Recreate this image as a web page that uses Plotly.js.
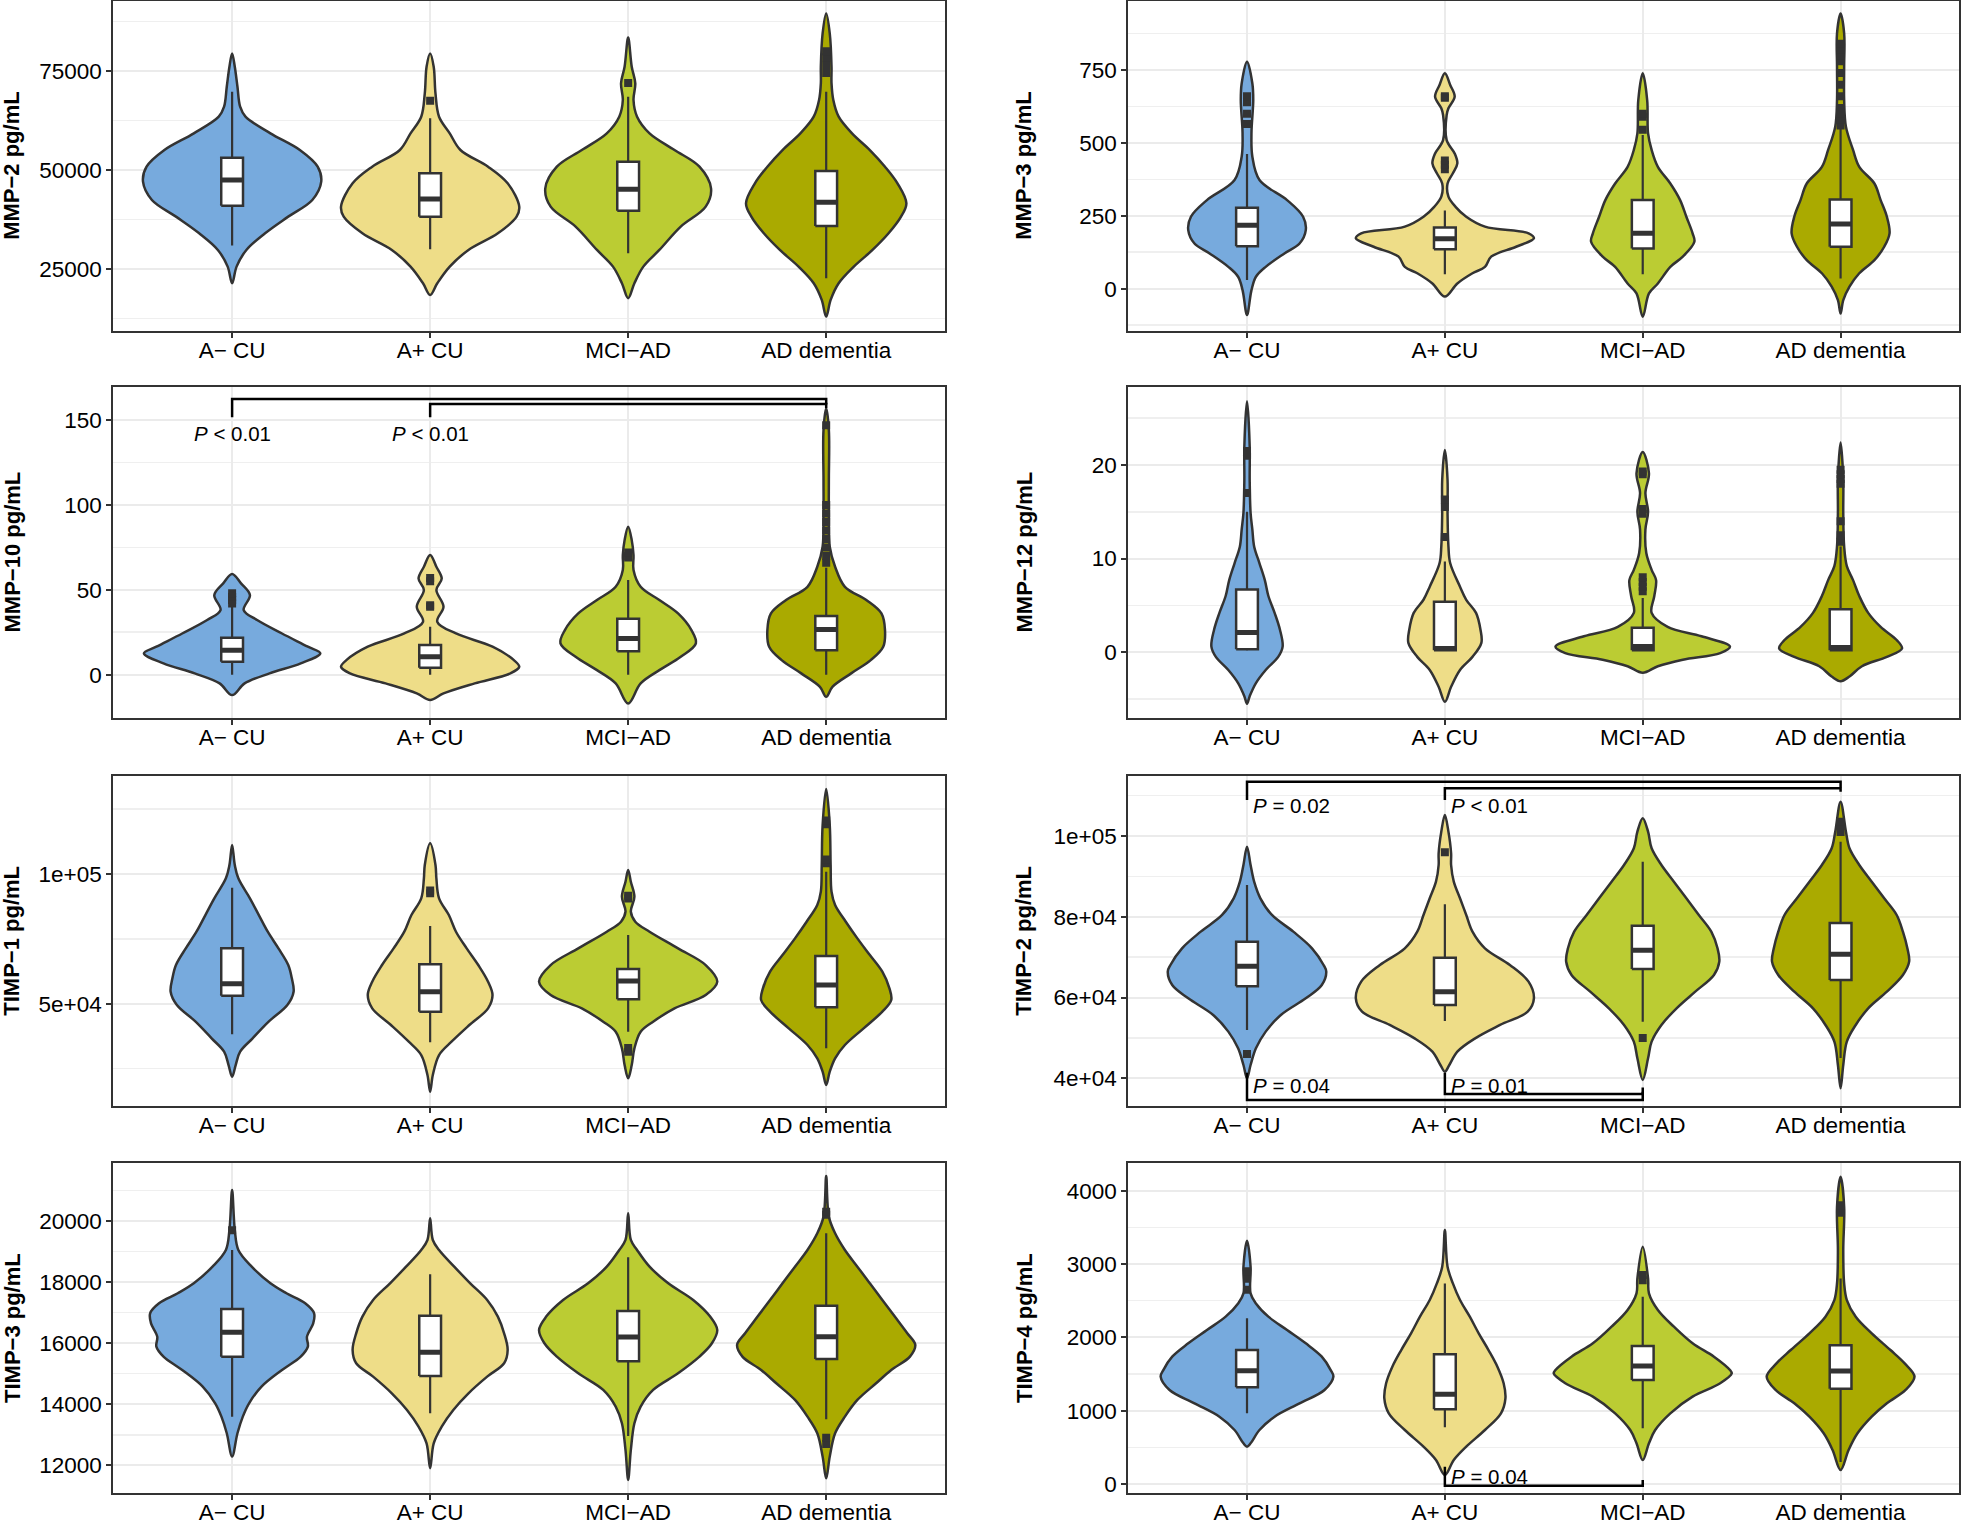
<!DOCTYPE html>
<html><head><meta charset="utf-8">
<script src="https://cdn.plot.ly/plotly-3.0.1.min.js"></script>
<style>html,body{margin:0;padding:0;background:#fff}#chart{width:1961px;height:1521px}</style>
</head><body><div id="chart"></div>
<script>
// ---------------- DATA ----------------
const groups = ['A\u2212 CU', 'A+ CU', 'MCI\u2212AD', 'AD dementia'];
const panelTitles = ['MMP\u22122 pg/mL', 'MMP\u22123 pg/mL', 'MMP\u221210 pg/mL', 'MMP\u221212 pg/mL',
                     'TIMP\u22121 pg/mL', 'TIMP\u22122 pg/mL', 'TIMP\u22123 pg/mL', 'TIMP\u22124 pg/mL'];

// Violin density profiles: values (y) and relative half-width (d, 1 = widest)
// MMP-2
const mmp2ViolinY = [
  [79460, 76090, 71040, 65990, 63470, 59260, 55050, 50840, 47060, 42430, 38220, 34010, 29800, 25590, 21380],
  [79460, 76090, 69360, 63470, 59260, 55050, 50840, 46640, 40740, 38220, 34010, 29800, 25590, 21380, 18440],
  [83500, 76090, 71890, 67680, 63470, 59260, 55050, 50840, 45370, 40740, 35690, 29800, 25590, 21380, 17600],
  [89560, 84510, 76090, 71890, 67680, 63470, 59260, 55050, 50840, 46640, 41590, 38220, 34010, 29800, 25590, 21380, 17180, 12970]];
const mmp2ViolinD = [
  [0, .03, .06, .09, .15, .43, .76, .96, 1.0, .90, .63, .37, .16, .05, 0],
  [0, .04, .06, .10, .22, .34, .65, .87, 1.0, .97, .76, .43, .22, .08, 0],
  [0, .04, .08, .06, .10, .24, .52, .80, .93, .87, .59, .35, .17, .07, 0],
  [0, .04, .06, .06, .08, .14, .29, .49, .66, .80, .90, .84, .70, .52, .31, .14, .05, 0]];
const mmp2Q1 = [41000, 38220, 39730, 35860];
const mmp2Median = [47480, 42680, 45120, 41840];
const mmp2Q3 = [53120, 49160, 52110, 49750];
const mmp2Low = [30900, 29970, 28960, 22650];
const mmp2High = [69780, 63050, 68520, 69780];
const mmp2Outliers = [[], [67500], [72000], [74500, 76500, 78500, 80000]];

// MMP-3
const mmp3ViolinY = [
  [779, 704, 647, 533, 453, 373, 304, 247, 201, 155, 121, 75, 41, -5, -90],
  [739, 699, 659, 619, 596, 510, 464, 430, 396, 361, 316, 281, 247, 213, 190, 173, 144, 110, 75, 53, 18, -27],
  [739, 647, 533, 476, 418, 361, 304, 247, 190, 161, 110, 75, 18, -16, -96],
  [944, 876, 761, 647, 556, 476, 418, 361, 304, 247, 190, 144, 98, 53, 7, -39, -85]];
const mmp3ViolinD = [
  [0, .06, .07, .05, .06, .14, .45, .63, .66, .59, .42, .21, .10, .05, 0],
  [0, .06, .11, .04, .02, .02, .11, .14, .09, .03, .04, .12, .24, .45, .94, 1.0, .80, .52, .45, .31, .14, 0],
  [0, .05, .06, .10, .17, .31, .42, .49, .56, .58, .45, .31, .17, .07, 0],
  [0, .04, .04, .04, .06, .14, .21, .38, .45, .52, .55, .49, .38, .21, .10, .03, 0]];
const mmp3Q1 = [146, 135, 138, 144];
const mmp3Median = [218, 171, 190, 222];
const mmp3Q3 = [278, 210, 304, 306];
const mmp3Low = [30, 50, 50, 35];
const mmp3High = [462, 268, 527, 550];
const mmp3Outliers = [[565, 600, 640, 660], [410, 425, 440, 655, 660], [545, 590, 600],
                      [560, 580, 600, 620, 660, 700, 740, 780, 800, 820, 840]];

// MMP-10
const mmp10ViolinY = [
  [59.3, 53.8, 46.9, 38.1, 32.2, 24.3, 16.5, 12.6, 6.7, 0.8, -5.1, -12.0],
  [70.5, 63.6, 56.7, 49.9, 40.1, 31.2, 24.3, 16.5, 8.6, 4.7, 0.8, -5.1, -11.0, -14.9],
  [87.2, 79.3, 70.5, 61.7, 51.8, 44.0, 36.1, 26.3, 18.5, 10.6, 2.7, -5.1, -16.9],
  [156.9, 144.1, 114.7, 95.0, 75.4, 63.6, 51.8, 44.0, 36.1, 26.3, 16.5, 8.6, 0.8, -7.1, -13.0]];
const mmp10ViolinD = [
  [0, .10, .20, .13, .28, .56, .85, .99, .77, .42, .14, 0],
  [0, .07, .13, .07, .15, .08, .29, .70, .94, 1.0, .90, .50, .15, 0],
  [0, .04, .06, .06, .14, .35, .56, .71, .76, .59, .35, .14, 0],
  [0, .03, .03, .03, .04, .10, .21, .45, .62, .66, .64, .50, .28, .07, 0]];
const mmp10Q1 = [7.7, 4.1, 13.9, 14.5];
const mmp10Median = [14.5, 10.6, 21.4, 26.7];
const mmp10Q3 = [21.8, 17.5, 33.0, 34.6];
const mmp10Low = [0, 0, 0, 0];
const mmp10High = [40, 28.3, 55.8, 63];
const mmp10Outliers = [[42, 44, 46, 48], [40, 41, 55, 57], [69, 70, 72],
                       [66, 70, 75, 80, 85, 90, 95, 100, 147]];

// MMP-12
const mmp12ViolinY = [
  [26.8, 22.0, 18.4, 14.9, 13.1, 11.3, 9.5, 7.7, 6.0, 4.2, 2.4, 0.6, -0.5, -1.9, -3.3, -4.7, -5.5],
  [21.6, 18.4, 14.9, 11.3, 9.5, 7.0, 5.6, 4.2, 2.4, 1.0, -0.5, -1.9, -3.7, -5.3],
  [21.4, 19.1, 17.0, 15.0, 13.1, 10.6, 8.8, 7.7, 6.0, 4.2, 2.7, 1.7, 0.6, -0.1, -0.8, -1.5, -2.2],
  [22.4, 18.4, 14.9, 11.3, 9.2, 7.7, 6.0, 4.2, 2.7, 1.3, 0.4, -0.5, -1.5, -2.6, -3.1]];
const mmp12ViolinD = [
  [0, .03, .03, .04, .06, .08, .14, .20, .24, .31, .37, .40, .35, .21, .10, .03, 0],
  [0, .03, .03, .04, .06, .17, .24, .35, .40, .41, .31, .17, .07, 0],
  [0, .07, .03, .06, .03, .04, .10, .15, .13, .10, .28, .66, .98, .87, .45, .17, 0],
  [0, .03, .03, .04, .07, .14, .21, .31, .45, .63, .69, .52, .24, .10, 0]];
const mmp12Q1 = [0.3, 0.2, 0.2, 0.2];
const mmp12Median = [2.1, 0.4, 0.6, 0.5];
const mmp12Q3 = [6.7, 5.4, 2.6, 4.6];
const mmp12Low = [0.2, 0.2, 0.2, 0.2];
const mmp12High = [15.0, 9.7, 5.8, 11.3];
const mmp12Outliers = [[17, 21, 21.5], [12.3, 15.5, 16.3], [6.5, 7.0, 7.5, 8.0, 14.8, 15.3, 19.0, 19.3],
                       [11.8, 12.5, 14.0, 18.0, 18.5, 19.0, 19.5]];

// TIMP-1
const timp1ViolinY = [
  [111030, 103330, 98210, 90510, 84100, 77690, 71280, 64870, 59750, 54620, 49490, 43080, 36670, 31540, 26410, 21930],
  [111670, 103330, 98210, 90510, 84100, 77690, 71280, 64870, 58460, 53340, 48210, 41800, 35390, 30260, 22570, 16160],
  [101410, 96920, 91150, 85390, 81540, 77690, 71280, 64870, 58460, 53340, 48210, 43080, 39230, 32820, 26410, 21290],
  [132560, 118720, 103330, 93080, 87950, 81540, 75130, 68720, 62310, 55900, 51410, 46930, 40520, 34110, 28980, 23850, 18720]];
const timp1ViolinD = [
  [0, .03, .07, .20, .30, .40, .52, .63, .67, .69, .62, .41, .23, .09, .04, 0],
  [0, .06, .07, .10, .21, .29, .41, .54, .65, .70, .65, .44, .24, .10, .03, 0],
  [0, .03, .07, .03, .08, .24, .56, .87, 1.0, .87, .52, .28, .14, .07, .04, 0],
  [0, .04, .05, .06, .10, .22, .35, .49, .63, .71, .73, .63, .42, .21, .10, .04, 0]];
const timp1Q1 = [53080, 46930, 51670, 48590];
const timp1Median = [57690, 54620, 58720, 57180];
const timp1Q3 = [71280, 65130, 63330, 68340];
const timp1Low = [38210, 35130, 39230, 32820];
const timp1High = [94620, 79870, 76410, 100770];
const timp1Outliers = [[], [92500, 93500], [31500, 33000, 90500, 91500], [104000, 105500, 119000, 120500]];

// TIMP-2
const timp2ViolinY = [
  [97360, 92820, 88690, 84570, 80440, 76310, 72190, 68060, 66410, 63110, 59810, 55680, 51560, 47430, 43300, 40000],
  [105200, 101070, 95710, 92820, 88690, 84570, 80440, 76310, 72190, 68060, 63930, 59810, 56510, 53210, 49900, 46600, 43300, 41650],
  [104370, 101070, 96950, 92820, 88690, 84570, 80440, 76310, 72190, 68890, 65590, 61460, 57330, 53210, 49080, 44950, 39590],
  [108500, 101070, 96950, 92820, 88690, 84570, 80440, 76310, 72190, 68890, 65590, 61460, 57330, 53210, 49080, 43300, 37530]];
const timp2ViolinD = [
  [0, .04, .08, .15, .28, .52, .73, .86, .89, .84, .66, .38, .21, .10, .04, 0],
  [0, .04, .07, .07, .10, .17, .24, .31, .45, .73, .94, 1.0, .93, .62, .34, .14, .05, 0],
  [0, .06, .10, .21, .35, .49, .63, .77, .84, .86, .80, .59, .38, .21, .10, .06, 0],
  [0, .06, .10, .21, .35, .49, .63, .70, .75, .77, .70, .52, .31, .17, .07, .03, 0]];
const timp2Q1 = [62780, 58160, 67070, 64350];
const timp2Median = [67730, 61460, 71690, 70700];
const timp2Q3 = [73840, 69880, 77800, 78460];
const timp2Low = [51970, 54200, 54030, 45000];
const timp2High = [87870, 83080, 93650, 98600];
const timp2Outliers = [[46000], [96000], [50000], [101000, 102500, 103500]];

// TIMP-3
const timp3ViolinY = [
  [21015, 19705, 19050, 18505, 17959, 17632, 17304, 16977, 16649, 16213, 15885, 15558, 15121, 14576, 14030, 13593, 13048, 12284],
  [20087, 19378, 19050, 18505, 17959, 17413, 16868, 16322, 15776, 15340, 14903, 14357, 13812, 13266, 12720, 11902],
  [20251, 19378, 19050, 18505, 17959, 17413, 16868, 16431, 15995, 15558, 15012, 14467, 13921, 13375, 12502, 11520],
  [21473, 20142, 19596, 19050, 18505, 17959, 17413, 16868, 16322, 15940, 15558, 15121, 14685, 14139, 13593, 13048, 12284, 11574]];
const timp3ViolinD = [
  [0, .03, .07, .22, .43, .61, .82, .92, .91, .84, .85, .77, .56, .33, .19, .12, .06, 0],
  [0, .03, .10, .27, .45, .64, .76, .83, .87, .83, .64, .43, .26, .13, .04, 0],
  [0, .03, .10, .24, .45, .73, .92, 1.0, .94, .80, .56, .28, .14, .07, .03, 0],
  [0, .03, .10, .21, .35, .49, .63, .77, .91, 1.0, .94, .73, .56, .35, .21, .10, .04, 0]];
const timp3Q1 = [15558, 14925, 15405, 15482];
const timp3Median = [16355, 15700, 16202, 16213];
const timp3Q3 = [17119, 16900, 17053, 17228];
const timp3Low = [13593, 13703, 12960, 13506];
const timp3High = [19050, 18254, 18810, 19596];
const timp3Outliers = [[19700], [], [], [12700, 12900, 20200, 20300]];

// TIMP-4
const timp4ViolinY = [
  [3318, 2963, 2600, 2463, 2282, 2100, 1918, 1736, 1554, 1464, 1282, 1100, 918, 736, 555, 509],
  [3463, 2963, 2736, 2509, 2282, 2054, 1827, 1600, 1373, 1168, 964, 736, 509, 327, 123],
  [3236, 2804, 2600, 2373, 2145, 1918, 1736, 1554, 1509, 1373, 1191, 964, 736, 555, 327],
  [4190, 3781, 3191, 2736, 2509, 2282, 2054, 1827, 1645, 1464, 1282, 1100, 918, 691, 464, 191]];
const timp4ViolinD = [
  [0, .04, .04, .10, .24, .45, .66, .84, .94, .97, .87, .59, .31, .14, .04, 0],
  [0, .03, .09, .17, .28, .38, .49, .59, .66, .68, .63, .45, .24, .10, 0],
  [0, .06, .07, .17, .35, .56, .80, .98, 1.0, .87, .56, .31, .14, .07, 0],
  [0, .04, .03, .04, .07, .17, .35, .56, .72, .83, .73, .52, .35, .19, .09, 0]];
const timp4Q1 = [1318, 1018, 1418, 1300];
const timp4Median = [1545, 1223, 1609, 1541];
const timp4Q3 = [1827, 1768, 1882, 1891];
const timp4Low = [964, 773, 759, 300];
const timp4High = [2259, 2736, 2554, 2804];
const timp4Outliers = [[2650, 2800, 2900], [], [2780, 2850], [3700, 3800]];

// Y tick labels
const mmp2Ticks = [25000, 50000, 75000];
const mmp3Ticks = [0, 250, 500, 750];
const mmp10Ticks = [0, 50, 100, 150];
const mmp12Ticks = [0, 10, 20];
const timp1Ticks = [50000, 100000];
const timp1TickText = ['5e+04', '1e+05'];
const timp2Ticks = [40000, 60000, 80000, 100000];
const timp2TickText = ['4e+04', '6e+04', '8e+04', '1e+05'];
const timp3Ticks = [12000, 14000, 16000, 18000, 20000];
const timp4Ticks = [0, 1000, 2000, 3000, 4000];

// Significance brackets (group positions 1..4)
const mmp10BrFrom = [1, 2], mmp10BrTo = [4, 4];
const mmp10BrY = [162.4, 159.4], mmp10BrTip = [151.6, 151.6];
const mmp10LabelText = ['<i>P</i> < 0.01', '<i>P</i> < 0.01'];
const mmp10LabelX = [1, 2], mmp10LabelY = [142.3, 142.3];

const timp2BrFrom = [1, 2, 1, 2], timp2BrTo = [4, 4, 3, 3];
const timp2BrY = [113440, 111810, 34630, 36110], timp2BrTip = [108910, 108910, 41390, 41390];
const timp2LabelText = ['<i>P</i> = 0.02', '<i>P</i> < 0.01', '<i>P</i> = 0.04', '<i>P</i> = 0.01'];
const timp2LabelX = [1, 2, 1, 2], timp2LabelY = [107670, 107670, 38340, 38340];

const timp4BrFrom = [2], timp4BrTo = [3];
const timp4BrY = [-23], timp4BrTip = [236];
const timp4LabelText = ['<i>P</i> = 0.04'];
const timp4LabelX = [2], timp4LabelY = [100];

// ---------------- STYLE / LAYOUT ----------------
const fillColors = ['#77AADD', '#EEDD88', '#BBCC33', '#AAAA00'];
const outline = '#333333';
const FONT = '"Liberation Sans", Arial, Helvetica, sans-serif';
const W = 0.45, BOXW = 0.11;

const panels = [
  {vy: mmp2ViolinY, vd: mmp2ViolinD, q1: mmp2Q1, med: mmp2Median, q3: mmp2Q3, lo: mmp2Low, hi: mmp2High, out: mmp2Outliers,
   ticks: mmp2Ticks, tickText: mmp2Ticks.map(String), minor: 12500, range: [9400, 92700]},
  {vy: mmp3ViolinY, vd: mmp3ViolinD, q1: mmp3Q1, med: mmp3Median, q3: mmp3Q3, lo: mmp3Low, hi: mmp3High, out: mmp3Outliers,
   ticks: mmp3Ticks, tickText: mmp3Ticks.map(String), minor: 125, range: [-144, 987]},
  {vy: mmp10ViolinY, vd: mmp10ViolinD, q1: mmp10Q1, med: mmp10Median, q3: mmp10Q3, lo: mmp10Low, hi: mmp10High, out: mmp10Outliers,
   ticks: mmp10Ticks, tickText: mmp10Ticks.map(String), minor: 25, range: [-25.3, 169.3],
   br: {from: mmp10BrFrom, to: mmp10BrTo, y: mmp10BrY, tip: mmp10BrTip},
   labels: {text: mmp10LabelText, x: mmp10LabelX, y: mmp10LabelY, anchor: 'center'}},
  {vy: mmp12ViolinY, vd: mmp12ViolinD, q1: mmp12Q1, med: mmp12Median, q3: mmp12Q3, lo: mmp12Low, hi: mmp12High, out: mmp12Outliers,
   ticks: mmp12Ticks, tickText: mmp12Ticks.map(String), minor: 5, range: [-7.0, 28.3]},
  {vy: timp1ViolinY, vd: timp1ViolinD, q1: timp1Q1, med: timp1Median, q3: timp1Q3, lo: timp1Low, hi: timp1High, out: timp1Outliers,
   ticks: timp1Ticks, tickText: timp1TickText, minor: 25000, range: [10769, 137692]},
  {vy: timp2ViolinY, vd: timp2ViolinD, q1: timp2Q1, med: timp2Median, q3: timp2Q3, lo: timp2Low, hi: timp2High, out: timp2Outliers,
   ticks: timp2Ticks, tickText: timp2TickText, minor: 10000, range: [33218, 114926],
   br: {from: timp2BrFrom, to: timp2BrTo, y: timp2BrY, tip: timp2BrTip},
   labels: {text: timp2LabelText, x: timp2LabelX, y: timp2LabelY, anchor: 'left'}},
  {vy: timp3ViolinY, vd: timp3ViolinD, q1: timp3Q1, med: timp3Median, q3: timp3Q3, lo: timp3Low, hi: timp3High, out: timp3Outliers,
   ticks: timp3Ticks, tickText: timp3Ticks.map(String), minor: 1000, range: [11083, 21908]},
  {vy: timp4ViolinY, vd: timp4ViolinD, q1: timp4Q1, med: timp4Median, q3: timp4Q3, lo: timp4Low, hi: timp4High, out: timp4Outliers,
   ticks: timp4Ticks, tickText: timp4Ticks.map(String), minor: 500, range: [-127, 4382],
   br: {from: timp4BrFrom, to: timp4BrTo, y: timp4BrY, tip: timp4BrTip},
   labels: {text: timp4LabelText, x: timp4LabelX, y: timp4LabelY, anchor: 'left'}}
];

const H = 1521, WD = 1961;
const colDomains = [[113.3 / WD, 945 / WD], [1128.3 / WD, 1959.3 / WD]];
const rowPx = [[1, 330.7], [387.3, 717.7], [775.7, 1105.7], [1162.7, 1493.3]];
const titleX = [12 / WD, 1024 / WD];

const traces = [];
const layout = {
  width: WD, height: H, margin: {l: 0, r: 0, t: 0, b: 0},
  paper_bgcolor: '#ffffff', plot_bgcolor: '#ffffff', showlegend: false,
  font: {family: FONT, color: '#000000'}, annotations: []
};

panels.forEach((p, k) => {
  const sfx = k === 0 ? '' : String(k + 1);
  const xa = 'x' + sfx, ya = 'y' + sfx;
  const row = Math.floor(k / 2), col = k % 2;
  const yDom = [1 - rowPx[row][1] / H, 1 - rowPx[row][0] / H];

  const axisCommon = {
    showline: true, mirror: true, linecolor: outline, linewidth: 2,
    ticks: 'outside', ticklen: 5, tickwidth: 2, tickcolor: outline,
    showgrid: true, gridcolor: '#EBEBEB', gridwidth: 2, zeroline: false,
    tickfont: {family: FONT, size: 22.5, color: '#000000'}, fixedrange: true
  };
  layout['xaxis' + sfx] = Object.assign({}, axisCommon, {
    type: 'linear', domain: colDomains[col], anchor: ya, range: [0.4, 4.6],
    tickmode: 'array', tickvals: [1, 2, 3, 4], ticktext: groups, ticklabelstandoff: -7
  });
  layout['yaxis' + sfx] = Object.assign({}, axisCommon, {
    type: 'linear', domain: yDom, anchor: xa, range: p.range,
    tickmode: 'array', tickvals: p.ticks, ticktext: p.tickText,
    minor: {tick0: 0, dtick: p.minor, showgrid: true, gridcolor: '#EFEFEF', gridwidth: 1.6, ticks: ''}
  });

  // y-axis title
  layout.annotations.push({
    xref: 'paper', yref: 'paper', x: titleX[col], y: (yDom[0] + yDom[1]) / 2,
    text: '<b>' + panelTitles[k] + '</b>', textangle: -90, showarrow: false,
    xanchor: 'center', yanchor: 'middle', font: {family: FONT, size: 22, color: '#000000'}
  });

  // violins
  for (let g = 0; g < 4; g++) {
    const c = g + 1, ys = p.vy[g], ds = p.vd[g];
    const xs = ds.map(d => c + d * W).concat(ds.slice(0, -1).reverse().map(d => c - d * W));
    const yy = ys.concat(ys.slice(0, -1).reverse());
    traces.push({
      type: 'scatter', x: xs, y: yy, xaxis: xa, yaxis: ya, mode: 'lines', fill: 'toself',
      fillcolor: fillColors[g], line: {color: outline, width: 2.5, shape: 'spline', smoothing: 1},
      hoverinfo: 'skip', showlegend: false
    });
  }

  // whiskers (vertical lines from box to lower/upper whisker ends)
  const wx = [], wy = [];
  p.q1.forEach((q, g) => {
    const c = g + 1;
    wx.push(c, c, null, c, c, null);
    wy.push(p.lo[g], q, null, p.q3[g], p.hi[g], null);
  });
  traces.push({type: 'scatter', mode: 'lines', x: wx, y: wy, xaxis: xa, yaxis: ya,
    line: {color: outline, width: 2.2}, hoverinfo: 'skip', showlegend: false});

  // boxes (white rectangles from q1 to q3)
  for (let g = 0; g < 4; g++) {
    const c = g + 1, a = c - BOXW / 2, b = c + BOXW / 2;
    traces.push({
      type: 'scatter', mode: 'lines', fill: 'toself', fillcolor: '#ffffff',
      x: [a, b, b, a, a], y: [p.q1[g], p.q1[g], p.q3[g], p.q3[g], p.q1[g]],
      xaxis: xa, yaxis: ya, line: {color: outline, width: 2.5}, hoverinfo: 'skip', showlegend: false
    });
  }

  // thick median segments
  const mx = [], my = [];
  p.med.forEach((m, g) => { mx.push(g + 1 - BOXW / 2, g + 1 + BOXW / 2, null); my.push(m, m, null); });
  traces.push({type: 'scatter', mode: 'lines', x: mx, y: my, xaxis: xa, yaxis: ya,
    line: {color: outline, width: 5}, hoverinfo: 'skip', showlegend: false});

  // outliers
  const ox = [], oy = [];
  p.out.forEach((arr, g) => arr.forEach(v => { ox.push(g + 1); oy.push(v); }));
  traces.push({type: 'scatter', mode: 'markers', x: ox, y: oy, xaxis: xa, yaxis: ya,
    marker: {symbol: 'square', size: 8, color: outline}, hoverinfo: 'skip', showlegend: false});

  // brackets
  if (p.br) {
    const bx = [], by = [];
    p.br.from.forEach((f, i) => {
      const yv = p.br.y[i], tip = p.br.tip[i], t = p.br.to[i];
      const rtip = yv + (tip - yv) * 0.3;
      bx.push(f, f, t, t, null);
      by.push(tip, yv, yv, rtip, null);
    });
    traces.push({type: 'scatter', mode: 'lines', x: bx, y: by, xaxis: xa, yaxis: ya,
      line: {color: '#000000', width: 2.5}, hoverinfo: 'skip', showlegend: false});
  }
  if (p.labels) {
    p.labels.text.forEach((t, i) => {
      layout.annotations.push({
        xref: xa, yref: ya, x: p.labels.x[i], y: p.labels.y[i], text: t, showarrow: false,
        xanchor: p.labels.anchor, yanchor: 'middle', xshift: p.labels.anchor === 'left' ? 4 : 0,
        font: {family: FONT, size: 20.5, color: '#000000'}
      });
    });
  }
});

Plotly.newPlot('chart', traces, layout, {staticPlot: true, displayModeBar: false});
</script>
</body></html>
